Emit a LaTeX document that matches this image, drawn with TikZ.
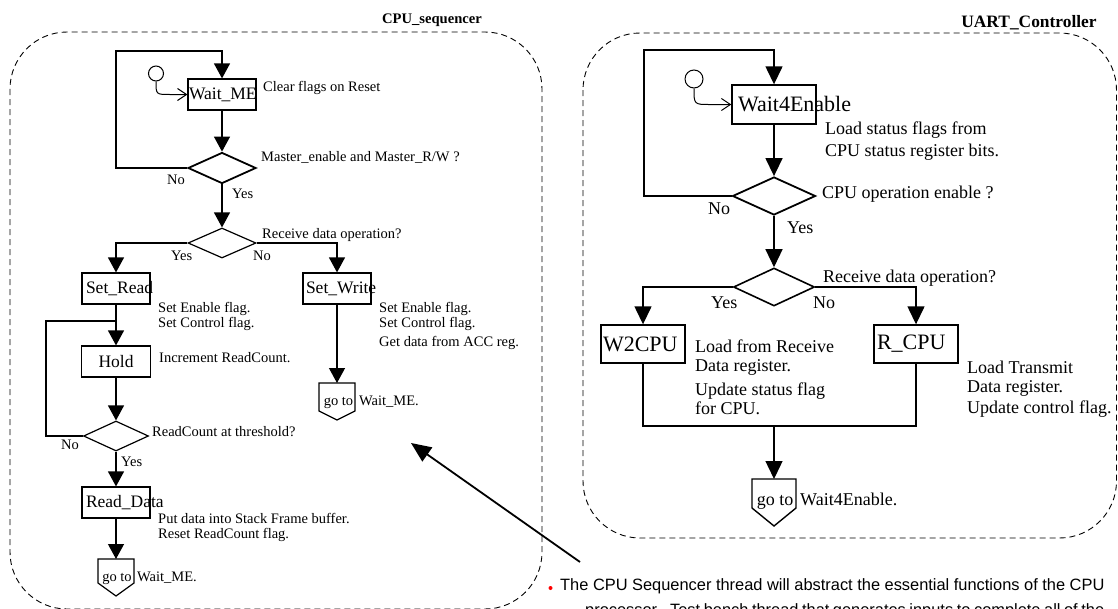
\documentclass[tikz,border=0pt]{standalone}
\usepackage{fontspec}
\setmainfont{Liberation Serif}
\newfontfamily\notefont{Liberation Sans}
\usetikzlibrary{arrows.meta,shapes.geometric}
\begin{document}
\begin{tikzpicture}[x=1pt,y=-1pt,
  frame/.style={draw, dash pattern=on 6pt off 4pt, line width=0.9pt, rounded corners=57pt},
  ln/.style={line width=1.2pt},
  arr/.style={ln, -{Triangle[length=15pt,width=16pt]}},
  rln/.style={line width=1.4pt},
  rarr/.style={rln, -{Triangle[length=18pt,width=17pt]}},
  sbox/.style={draw, line width=1.2pt, minimum height=31pt, inner ysep=0pt, align=left,
    font=\fontsize{17.5}{20}\selectfont},
  rbox/.style={draw, line width=1.4pt, minimum height=38pt, inner ysep=0pt, align=left,
    font=\fontsize{22}{26}\selectfont},
  dec/.style={diamond, draw, inner sep=0pt, line width=1.2pt},
  startpt/.style={circle, draw, line width=1pt, inner sep=0pt},
  entry/.style={line width=1pt, -{Straight Barb[length=9pt,width=12pt]}},
  lbl/.style={inner sep=0pt, anchor=base west, font=\fontsize{14.5}{15}\selectfont},
  rlbl/.style={inner sep=0pt, anchor=base west, font=\fontsize{18}{19}\selectfont},
  gtxt/.style={inner sep=0pt, anchor=base, font=\fontsize{14.5}{15}\selectfont},
  rgtxt/.style={inner sep=0pt, anchor=base, font=\fontsize{18}{19}\selectfont},
  ttl/.style={inner sep=0pt, anchor=base},
  note/.style={inner sep=0pt, anchor=base west, font=\notefont\fontsize{16.4}{20}\selectfont}]

\useasboundingbox (0,0) rectangle (1118,608);
\fill[white] (0,0) rectangle (1118,608);

% ---------------- CPU sequencer thread ----------------
\draw[frame] (10,32) rectangle (542,609);
\node[ttl, font=\fontsize{14.6}{16}\selectfont\bfseries] (title1) at (432,23) {CPU\_sequencer};

\node[sbox, text width=66pt, inner xsep=1pt] (waitme) at (222,94.5) {Wait\_ME};
\node[startpt, minimum size=15pt] (start1) at (156,73.5) {};
\coordinate (s1bend) at (170,94.5);
\draw[entry] (start1.south) .. controls (156,94.5) .. (s1bend) -- (waitme.west);
\node[lbl] (clr) at (263,91.5) {Clear flags on Reset};

\node[dec, minimum width=68pt, minimum height=31pt, line width=1.8pt] (d1) at (222,168) {};
\node[lbl] (d1q) at (261,161.5) {Master\_enable and Master\_R/W ?};
\node[lbl] (d1no) at (167,184.5) {No};
\node[lbl] (d1yes) at (232,198.5) {Yes};

\coordinate (lp1) at (116,51);
\draw[arr] (d1.west) -| (lp1) -| (waitme.north);
\draw[arr] (waitme.south) -- (d1.north);

\node[dec, minimum width=68pt, minimum height=30pt] (d2) at (222,243) {};
\draw[arr] (d1.south) -- (d2.north);
\node[lbl] (d2q) at (262,238.5) {Receive data operation?};
\node[lbl] (d2yes) at (171,260.5) {Yes};
\node[lbl] (d2no) at (253,260.5) {No};

\node[sbox, text width=60pt, inner xsep=4pt] (setread) at (116,288.5) {Set\_Read};
\node[sbox, text width=62pt, inner xsep=3pt] (setwrite) at (337,288.5) {Set\_Write};
\draw[arr] (d2.west) -| (setread.north);
\draw[arr] (d2.east) -| (setwrite.north);

\node[lbl, anchor=north west, align=left] (srnote) at (158,302.5) {Set Enable flag.\\Set Control flag.};
\node[lbl, anchor=north west, align=left] (swnote) at (379,302.5) {Set Enable flag.\\Set Control flag.\\[4pt]Get data from ACC reg.};

\node[sbox, minimum width=69pt, align=center] (hold) at (116,361.5) {Hold};
\draw[arr] (setread.south) -- (hold.north);
\node[lbl] (holdnote) at (159,362.5) {Increment ReadCount.};

\node[dec, minimum width=65pt, minimum height=30pt] (d3) at (116,436) {};
\draw[arr] (hold.south) -- (d3.north);
\node[lbl] (d3q) at (152,436.5) {ReadCount at threshold?};
\node[lbl] (d3no) at (61,449.5) {No};
\node[lbl] (d3yes) at (121,466.5) {Yes};
\coordinate (lp2) at (46,321);
\coordinate (lj2) at (116,321);
\draw[ln] (d3.west) -| (lp2) -- (lj2);

\node[sbox, text width=60pt, inner xsep=4pt] (readdata) at (116,502.5) {Read\_Data};
\draw[arr] (d3.south) -- (readdata.north);
\node[lbl, anchor=north west, align=left] (rdnote) at (158,513.5) {Put data into Stack Frame buffer.\\Reset ReadCount flag.};

% off-page connectors of the CPU sequencer
\coordinate (g1) at (116,559);
\draw[ln] (g1) ++(-18,0) -- ++(36,0) -- ++(0,24) -- ++(-18,13) -- ++(-18,-13) -- cycle;
\draw[arr] (readdata.south) -- (g1);
\node[gtxt] (g1t) at (117,581.5) {go to};
\node[lbl] (g1n) at (137,581.5) {Wait\_ME.};

\coordinate (g2) at (337,383);
\draw[ln] (g2) ++(-18,0) -- ++(36,0) -- ++(0,28) -- ++(-18,9) -- ++(-18,-9) -- cycle;
\draw[arr] (setwrite.south) -- (g2);
\node[gtxt] (g2t) at (338.5,405.5) {go to};
\node[lbl] (g2n) at (359,405.5) {Wait\_ME.};

% ---------------- UART controller thread ----------------
\draw[frame] (583,33) rectangle (1116.5,538);
\node[ttl, font=\fontsize{17.4}{19}\selectfont\bfseries] (title2) at (1029,27) {UART\_Controller};

\node[rbox, text width=72pt, inner xsep=6pt, minimum height=39pt] (w4e) at (774,104.5) {Wait4Enable};
\node[startpt, minimum size=18pt] (start2) at (694,79) {};
\coordinate (s2bend) at (710,104.5);
\draw[entry] (start2.south) .. controls (694,104.5) .. (s2bend) -- (w4e.west);
\node[rlbl, anchor=north west, align=left, font=\fontsize{18}{22}\selectfont] (w4enote) at (825,121.2)
  {Load status flags from\\CPU status register bits.};

\node[dec, minimum width=83pt, minimum height=38pt, line width=1.8pt] (d4) at (774,196) {};
\draw[rarr] (w4e.south) -- (d4.north);
\coordinate (lp3) at (644,50);
\draw[rarr] (d4.west) -| (lp3) -| (w4e.north);
\node[rlbl] (d4q) at (822,198.5) {CPU operation enable ?};
\node[rlbl] (d4no) at (708,214.5) {No};
\node[rlbl] (d4yes) at (787,233.5) {Yes};

\node[dec, minimum width=81pt, minimum height=38pt, line width=1.6pt] (d5) at (774,287) {};
\draw[rarr] (d4.south) -- (d5.north);
\node[rlbl] (d5q) at (823,282.5) {Receive data operation?};
\node[rlbl] (d5yes) at (711,308.5) {Yes};
\node[rlbl] (d5no) at (813,308.5) {No};

\node[rbox, text width=80pt, inner xsep=2pt] (w2cpu) at (643,344) {W2CPU};
\node[rbox, text width=78pt, inner xsep=3pt] (rcpu) at (916,344) {R\_CPU};
\draw[rarr] (d5.west) -| (w2cpu.north);
\draw[rarr] (d5.east) -| (rcpu.north);
\node[rlbl, anchor=north west, align=left] (w2note) at (695,339.2)
  {Load from Receive\\Data register.\\[5pt]Update status flag\\for CPU.};
\node[rlbl, anchor=north west, align=left] (rcnote) at (967,361.2)
  {Load Transmit\\Data register.\\[2pt]Update control flag.};

\coordinate (mg) at (774,426);
\draw[rln] (w2cpu.south) |- (mg) -| (rcpu.south);
\coordinate (g3) at (774,479);
\draw[rln] (g3) ++(-22,0) -- ++(44,0) -- ++(0,29) -- ++(-22,18) -- ++(-22,-18) -- cycle;
\draw[rarr] (mg) -- (g3);
\node[rgtxt] (g3t) at (775,505.5) {go to};
\node[rlbl] (g3n) at (800,505.5) {Wait4Enable.};

% ---------------- annotation ----------------
\coordinate (tail) at (580,562);
\coordinate (head) at (411,443);
\draw[line width=1.8pt, -{Triangle[length=20pt,width=17pt]}] (tail) -- (head);

\node[circle, fill=red, inner sep=0pt, minimum size=4pt] (bul) at (550.5,588) {};
\node[note] (note1) at (560,590) {The CPU Sequencer thread will abstract the essential functions of the CPU};
\node[note] (note2) at (585,615) {\makebox[519pt][s]{processor. \ Test bench thread that generates inputs to complete all of the}};
\end{tikzpicture}
\end{document}
